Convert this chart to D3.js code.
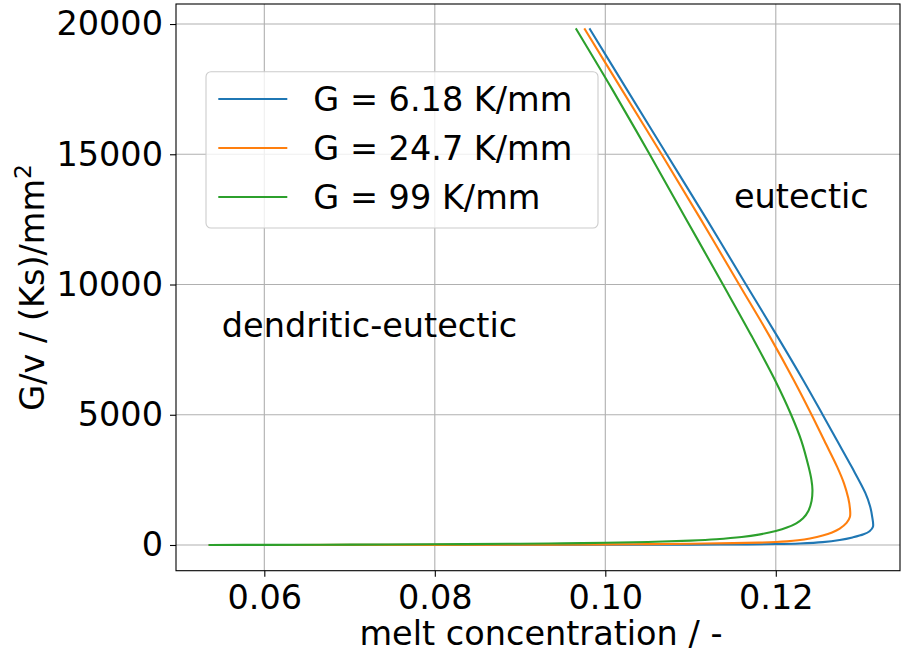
<!DOCTYPE html>
<html>
<head>
<meta charset="utf-8">
<script src="https://cdn.jsdelivr.net/npm/d3@7"></script>
<style>
  html, body { margin: 0; padding: 0; background: #fff; }
  svg { display: block; }
  text { font-family: "DejaVu Sans", sans-serif; fill: #000; }
</style>
</head>
<body>
<svg id="chart" width="902" height="656"></svg>
<script>
// ---------- data (melt concentration, G/v) ----------
const seriesNames = ["G = 6.18 K/mm", "G = 24.7 K/mm", "G = 99 K/mm"];
const seriesColors = ["#1f77b4", "#ff7f0e", "#2ca02c"];

const concBlue = [0.0536, 0.080, 0.100, 0.110, 0.115, 0.1200, 0.1228, 0.1255, 0.1275, 0.1290, 0.1303, 0.1310, 0.1314, 0.1313, 0.13105, 0.1305, 0.1289, 0.1272, 0.1255, 0.1232, 0.1202, 0.1165, 0.1119, 0.1072, 0.1025, 0.0982];
const gvBlue   = [0,      3,     7,     13,    19,    36,     60,     110,    192,    290,    410,    530,    703,    1100,   1500,    2000,   3000,   4000,   5000,   6334,   8000,   10000,  12500,  15000,  17500,  19800];

const concOrange = [0.0536, 0.070, 0.080, 0.090, 0.100, 0.105, 0.110, 0.115, 0.118, 0.1200, 0.1213, 0.1226, 0.1240, 0.1255, 0.1266, 0.1275, 0.1283, 0.1287, 0.1287, 0.1285, 0.1280, 0.1272, 0.1257, 0.1242, 0.1221, 0.1193, 0.1157, 0.1112, 0.1066, 0.1019, 0.0976];
const gvOrange   = [0,      3,     6,     12,    24,    34,    48,    70,    92,    115,    140,    180,    250,    360,    480,    630,    850,    1086,   1400,   1800,   2368,   3000,   4000,   5000,   6334,   8000,   10000,  12500,  15000,  17500,  19800];

const concGreen = [0.0536, 0.060, 0.070, 0.080, 0.090, 0.095, 0.100, 0.105, 0.110, 0.113, 0.116, 0.118, 0.1200, 0.1213, 0.1224, 0.1232, 0.1238, 0.1242, 0.1243, 0.12418, 0.12385, 0.1230, 0.1218, 0.1199, 0.1172, 0.1138, 0.1095, 0.1052, 0.1008, 0.0966];
const gvGreen   = [0,      5,     14,    27,    48,    63,    86,    116,   169,   220,   305,   398,   538,    668,    833,    1025,   1295,   1695,   2111,   2500,    3000,    4000,   5000,   6334,   8000,   10000,  12500,  15000,  17500,  19800];

const xTicks = [0.06, 0.08, 0.10, 0.12];
const yTicks = [0, 5000, 10000, 15000, 20000];
const xLabel = "melt concentration / -";
const yLabel = "G/v / (Ks)/mm";
const annotations = [
  { text: "eutectic", x: 0.1230, y: 12950 },
  { text: "dendritic-eutectic", x: 0.07234, y: 8000 }
];

const series = [
  { name: seriesNames[0], color: seriesColors[0], pts: concBlue.map((c, i) => [c, gvBlue[i]]) },
  { name: seriesNames[1], color: seriesColors[1], pts: concOrange.map((c, i) => [c, gvOrange[i]]) },
  { name: seriesNames[2], color: seriesColors[2], pts: concGreen.map((c, i) => [c, gvGreen[i]]) }
];

// ---------- layout ----------
const FS = 33.5;
const plot = { left: 176, right: 900, top: 4, bottom: 570.7 };
const svg = d3.select("#chart");

const x = d3.scaleLinear().domain([0.04964, 0.13457]).range([plot.left, plot.right]);
const y = d3.scaleLinear().domain([-987, 20769]).range([plot.bottom, plot.top]);

// grid
const grid = svg.append("g");
grid.selectAll("line.gx").data(xTicks).join("line")
  .attr("x1", d => x(d)).attr("x2", d => x(d))
  .attr("y1", plot.top).attr("y2", plot.bottom)
  .attr("stroke", "#b0b0b0").attr("stroke-width", 1.1);
grid.selectAll("line.gy").data(yTicks).join("line")
  .attr("x1", plot.left).attr("x2", plot.right)
  .attr("y1", d => y(d)).attr("y2", d => y(d))
  .attr("stroke", "#b0b0b0").attr("stroke-width", 1.1);

// curves
const line = d3.line()
  .x(d => x(d[0])).y(d => y(d[1]))
  .curve(d3.curveCatmullRom.alpha(0.5));
svg.append("g").selectAll("path").data(series).join("path")
  .attr("d", d => line(d.pts))
  .attr("fill", "none")
  .attr("stroke", d => d.color)
  .attr("stroke-width", 2.1)
  .attr("stroke-linejoin", "round")
  .attr("stroke-linecap", "square");

// axes
const xAxis = d3.axisBottom(x).tickValues(xTicks).tickFormat(d3.format(".2f")).tickSize(6).tickPadding(8);
const yAxis = d3.axisLeft(y).tickValues(yTicks).tickFormat(d3.format("d")).tickSize(6).tickPadding(7);

const gx = svg.append("g").attr("transform", `translate(0,${plot.bottom})`).call(xAxis);
const gy = svg.append("g").attr("transform", `translate(${plot.left},0)`).call(yAxis);
[gx, gy].forEach(g => {
  g.select(".domain").remove();
  g.selectAll(".tick line").attr("stroke", "#000").attr("stroke-width", 1.1);
  g.selectAll(".tick text").attr("font-size", FS).attr("font-family", "DejaVu Sans").attr("fill", "#000");
});
gx.selectAll(".tick text").attr("dy", "0.72em");

// frame
svg.append("rect")
  .attr("x", plot.left).attr("y", plot.top)
  .attr("width", plot.right - plot.left).attr("height", plot.bottom - plot.top)
  .attr("fill", "none").attr("stroke", "#000").attr("stroke-width", 1.1);

// annotations
svg.append("g").selectAll("text").data(annotations).join("text")
  .attr("x", d => x(d.x)).attr("y", d => y(d.y))
  .attr("text-anchor", "middle")
  .attr("font-size", FS)
  .text(d => d.text);

// axis labels
svg.append("text")
  .attr("x", 541).attr("y", 645)
  .attr("text-anchor", "middle").attr("font-size", FS)
  .text(xLabel);

const yl = svg.append("text")
  .attr("transform", `translate(44,${(plot.top + plot.bottom) / 2}) rotate(-90)`)
  .attr("text-anchor", "middle").attr("font-size", FS);
yl.append("tspan").text(yLabel);
yl.append("tspan").attr("font-size", 23.5).attr("dy", -13.5).text("2");

// legend
const lg = svg.append("g");
lg.append("rect")
  .attr("x", 206).attr("y", 71.7).attr("width", 392).attr("height", 156.3)
  .attr("rx", 5).attr("ry", 5)
  .attr("fill", "#fff").attr("fill-opacity", 0.8)
  .attr("stroke", "#cccccc").attr("stroke-width", 1.1);
const rows = lg.selectAll("g.row").data(series).join("g")
  .attr("transform", (d, i) => `translate(0,${99 + i * 49})`);
rows.append("line")
  .attr("x1", 218.3).attr("x2", 287.3).attr("y1", 0).attr("y2", 0)
  .attr("stroke", d => d.color).attr("stroke-width", 2.1);
rows.append("text")
  .attr("x", 313.3).attr("y", 0).attr("dy", "0.36em")
  .attr("font-size", FS)
  .text(d => d.name);
</script>
</body>
</html>
